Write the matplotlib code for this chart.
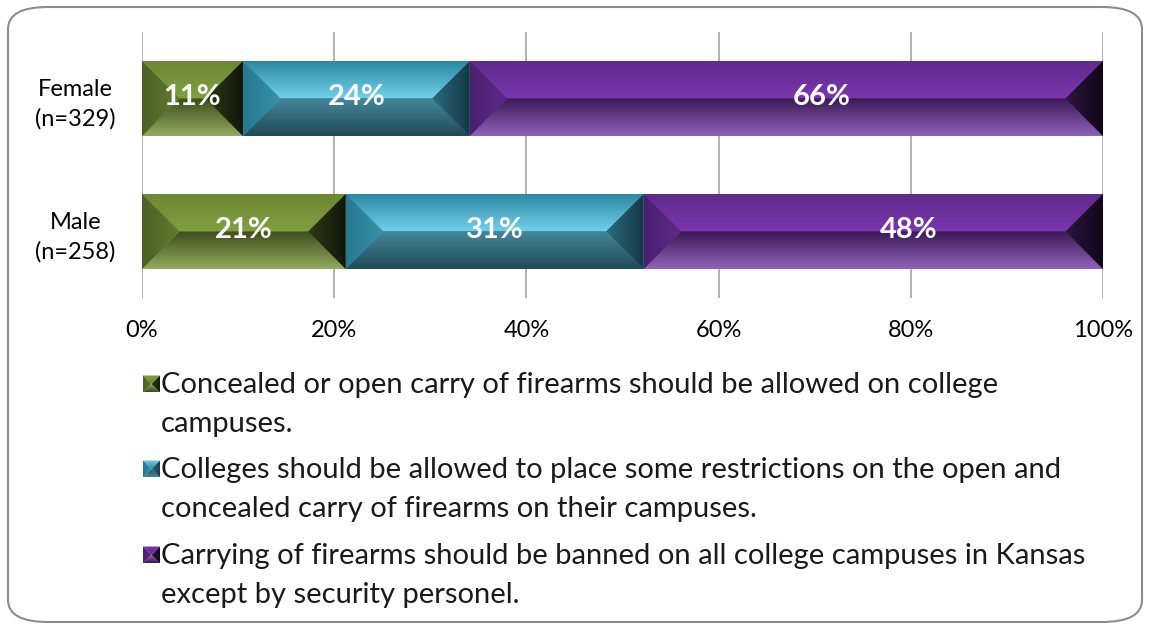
import matplotlib
matplotlib.use("Agg")
import matplotlib.pyplot as plt
import numpy as np
from matplotlib.patches import Polygon, FancyBboxPatch
from matplotlib.colors import to_rgb

plt.rcParams['font.family'] = ['Lato', 'DejaVu Sans']

# data
groups = ["Male\n(n=258)", "Female\n(n=329)"]
allowed = [21.2, 10.5]
restricted = [31.0, 23.6]
banned = [47.8, 65.9]
value_labels = [["21%", "31%", "48%"], ["11%", "24%", "66%"]]
legend_labels = [
    "Concealed or open carry of firearms should be allowed on college\ncampuses.",
    "Colleges should be allowed to place some restrictions on the open and\nconcealed carry of firearms on their campuses.",
    "Carrying of firearms should be banned on all college campuses in Kansas\nexcept by security personel.",
]
xticks = [0, 20, 40, 60, 80, 100]

# bevel shades: base, top, bottom, left, right (each gradient = start, end)
shades = [
    dict(base="#7a9a3c", top=("#6c8834", "#809f40"), bottom=("#3f4c1e", "#90ab5e"),
         left=("#4c5f26", "#647b31"), right=("#2e3816", "#12170a")),
    dict(base="#3b9ab5", top=("#2c86a0", "#70cfea"), bottom=("#44879a", "#1f4a58"),
         left=("#277890", "#3792ab"), right=("#2d6b7e", "#153845")),
    dict(base="#7433a8", top=("#5e2a8a", "#7b36ae"), bottom=("#3a1a55", "#9062bb"),
         left=("#4a2070", "#5c2a88"), right=("#2e1442", "#0f0717")),
]
label_shift = [0, 0, 3.7]  # the purple labels sit right of centre in the original


def grad_fill(ax, verts, c1, c2, horizontal, z):
    poly = Polygon(verts, closed=True, facecolor="none", edgecolor="none")
    ax.add_patch(poly)
    xs = [v[0] for v in verts]
    ys = [v[1] for v in verts]
    t = np.linspace(0, 1, 64)[:, None]
    cols = np.array(to_rgb(c1)) * (1 - t) + np.array(to_rgb(c2)) * t
    img = cols[None, :, :] if horizontal else cols[:, None, :]
    ax.imshow(img, extent=(min(xs), max(xs), min(ys), max(ys)), origin="upper",
              aspect="auto", clip_path=poly, zorder=z, interpolation="bilinear")


def bevel(ax, x0, x1, ytop, ybot, b, sh):
    ym = (ytop + ybot) / 2
    grad_fill(ax, [(x0, ytop), (x1, ytop), (x1 - b, ym), (x0 + b, ym)], *sh["top"], False, 3)
    grad_fill(ax, [(x0 + b, ym), (x1 - b, ym), (x1, ybot), (x0, ybot)], *sh["bottom"], False, 3)
    grad_fill(ax, [(x0, ytop), (x0 + b, ym), (x0, ybot)], *sh["left"], True, 3)
    grad_fill(ax, [(x1, ytop), (x1, ybot), (x1 - b, ym)], *sh["right"], True, 3)


fig = plt.figure(figsize=(11.49, 6.28), dpi=100)
W, H = 1149, 628

# rounded frame
frame = FancyBboxPatch((8 / W, 6 / H), 1134 / W, 615 / H,
                       boxstyle="round,pad=0,rounding_size=0.035",
                       transform=fig.transFigure, facecolor="none",
                       edgecolor="#8c8c8c", linewidth=1.5, zorder=-5)
fig.patches.append(frame)

ax = fig.add_axes([142 / W, 1 - 298 / H, 961 / W, 266 / H])
ax.set_facecolor("none")
for s in ax.spines.values():
    s.set_visible(False)
ax.set_xticks(xticks)
ax.set_xticklabels([f"{v}%" for v in xticks], fontsize=17)
ax.set_yticks([0, 1])
ax.set_yticklabels(groups, fontsize=17, linespacing=1.45)
for t in ax.get_yticklabels():
    t.set_multialignment("center")
ax.tick_params(length=0)
ax.tick_params(axis="x", pad=16)
ax.tick_params(axis="y", pad=19)
ax.grid(axis="x", color="#a6a6a6", linewidth=1.2)
ax.set_axisbelow(True)

y = np.arange(len(groups))
series = [allowed, restricted, banned]
left = np.zeros(len(groups))
bar_h = 0.564
px_x = 961 / 100.0
px_y = 266 / 2.0
for i, vals in enumerate(series):
    sh = shades[i]
    bars = ax.barh(y, vals, left=left, height=bar_h, color=sh["base"], zorder=2)
    for j, p in enumerate(bars.patches):
        x0, y0, w, h = p.get_x(), p.get_y(), p.get_width(), p.get_height()
        b = min((h / 2) * px_y / px_x, w / 2)
        bevel(ax, x0, x0 + w, y0 + h, y0, b, sh)
        ax.text(x0 + w / 2 + label_shift[i], y0 + h / 2 + 0.015, value_labels[j][i],
                color="white", fontsize=21, fontweight="bold",
                ha="center", va="center", zorder=5)
    left = left + np.array(vals)

ax.set_xlim(0, 100)
ax.set_ylim(-0.5, 1.5)

# legend, drawn in pixel coordinates
lax = fig.add_axes([0, 0, 1, 1])
lax.set_zorder(-1)
lax.axis("off")
leg_base = [393, 478, 564]
for i, lab in enumerate(legend_labels):
    sh = shades[i]
    cy = leg_base[i] - 9
    bevel(lax, 143, 160, cy - 8.5, cy + 8.5, 8.5, sh)
    for k, line in enumerate(lab.split("\n")):
        lax.text(161, leg_base[i] + 39 * k, line, fontsize=21, ha="left",
                 va="baseline", color="#1a1a1a")
lax.set_xlim(0, W)
lax.set_ylim(H, 0)

fig.savefig("out.png", dpi=100)
